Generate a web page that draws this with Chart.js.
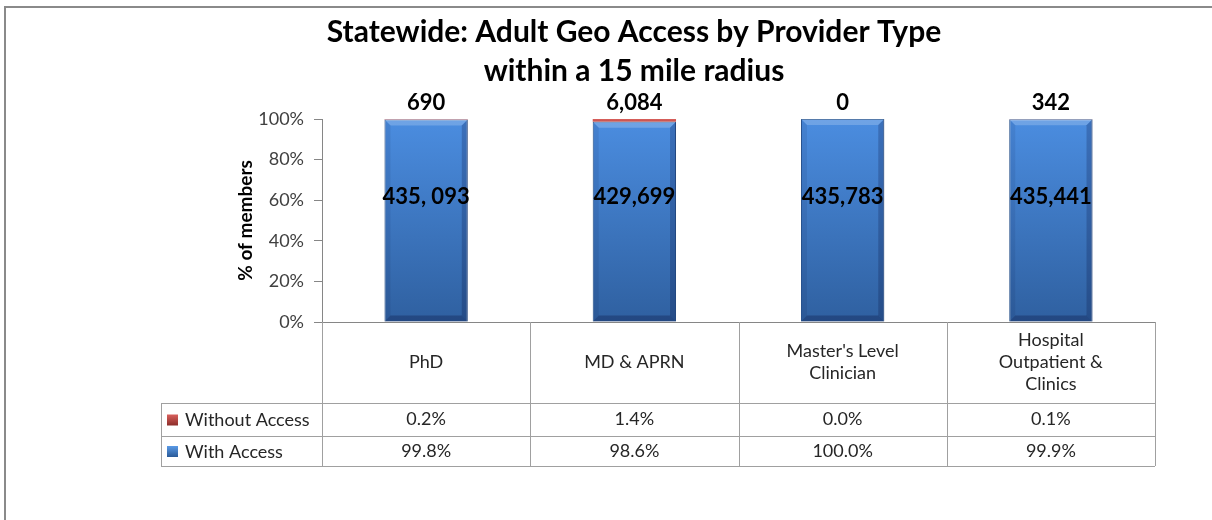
<!DOCTYPE html>
<html>
<head>
<meta charset="utf-8">
<script src="https://cdn.jsdelivr.net/npm/chart.js@4.4.1/dist/chart.umd.min.js"></script>
<style>
    html, body { margin: 0; padding: 0; background: #fff; overflow: hidden; }
    #frame {
        position: absolute; left: 4px; top: 6px;
        width: 1206px; height: 512px;
        border-left: 2px solid #8a8a8a;
        border-top: 2px solid #8a8a8a;
        background: #fff;
        overflow: hidden;
    }
    #chart { display: block; }
</style>
</head>
<body>
<div id="frame">
    <canvas id="chart" width="1200" height="512"></canvas>
</div>
<script>
// chart data
const categories = [["PhD"], ["MD & APRN"], ["Master's Level", "Clinician"], ["Hospital", "Outpatient &", "Clinics"]];
const seriesNames = ["With Access", "Without Access"];
const withAccessPct = [99.8, 98.6, 100.0, 99.9];
const withoutAccessPct = [0.2, 1.4, 0.0, 0.1];
const withAccessCount = ["435, 093", "429,699", "435,783", "435,441"];
const withoutAccessCount = ["690", "6,084", "0", "342"];
const titleLines = ["Statewide: Adult Geo Access by Provider Type", "within a 15 mile radius"];

const FONT = "Lato, 'Open Sans', sans-serif";
const GRAY = "#868686";
const TABLE_LINE = "#a0a0a0";

function blueFill(context) {
    const area = context.chart.chartArea;
    if (!area) return "#3a75c4";
    const g = context.chart.ctx.createLinearGradient(0, area.top, 0, area.bottom);
    g.addColorStop(0, "#4b8de0");
    g.addColorStop(1, "#2f60a0");
    return g;
}

function redFill(context) {
    const area = context.chart.chartArea;
    if (!area) return "#c0504d";
    const g = context.chart.ctx.createLinearGradient(0, area.top, 0, area.top + 6);
    g.addColorStop(0, "#d9605c");
    g.addColorStop(1, "#a83a37");
    return g;
}

// bevel shading on the bars, like the office 3D look
const bevelPlugin = {
    id: "bevel",
    afterDatasetsDraw(chart) {
        const ctx = chart.ctx;
        chart.getDatasetMeta(0).data.forEach(function (bar) {
            const p = bar.getProps(["x", "y", "base", "width"], true);
            const l = p.x - p.width / 2, r = p.x + p.width / 2;
            const t = p.y, b = p.base, e = 6;
            ctx.save();
            ctx.fillStyle = "rgba(255,255,255,0.20)";
            ctx.beginPath();
            ctx.moveTo(l, t); ctx.lineTo(r, t); ctx.lineTo(r - e, t + e); ctx.lineTo(l + e, t + e);
            ctx.closePath(); ctx.fill();
            ctx.fillStyle = "rgba(0,0,40,0.08)";
            ctx.beginPath();
            ctx.moveTo(l, t); ctx.lineTo(l + e, t + e); ctx.lineTo(l + e, b - e); ctx.lineTo(l, b);
            ctx.closePath(); ctx.fill();
            ctx.fillStyle = "rgba(0,0,40,0.20)";
            ctx.beginPath();
            ctx.moveTo(r, t); ctx.lineTo(r - e, t + e); ctx.lineTo(r - e, b - e); ctx.lineTo(r, b);
            ctx.closePath(); ctx.fill();
            ctx.fillStyle = "rgba(0,0,40,0.25)";
            ctx.beginPath();
            ctx.moveTo(l, b); ctx.lineTo(l + e, b - e); ctx.lineTo(r - e, b - e); ctx.lineTo(r, b);
            ctx.closePath(); ctx.fill();
            ctx.restore();
        });
    }
};

// title, value labels + data table under the axis
const tablePlugin = {
    id: "dataTable",
    afterDraw(chart) {
        const ctx = chart.ctx;
        const xs = chart.scales.x, ys = chart.scales.y;
        const colW = (xs.right - xs.left) / categories.length;
        const withoutMeta = chart.getDatasetMeta(1);

        ctx.save();
        ctx.fillStyle = "#000";
        ctx.textAlign = "center";

        // title (centred on the whole excel chart frame, which runs past the window)
        ctx.textBaseline = "alphabetic";
        ctx.font = "bold 30px " + FONT;
        ctx.fillText(titleLines[0], 628, 34);
        ctx.fillText(titleLines[1], 628, 73);

        ctx.textBaseline = "middle";
        ctx.font = "bold 22px " + FONT;
        categories.forEach(function (c, i) {
            const cx = xs.getPixelForValue(i);
            ctx.fillText(withAccessCount[i], cx, ys.getPixelForValue(61.5));
            ctx.fillText(withoutAccessCount[i], cx, withoutMeta.data[i].y - 16);
        });

        // table geometry
        const top = ys.bottom;
        const rowCat = 81, rowH = [33, 30];
        const legendLeft = xs.left - 161;
        const y1 = top + rowCat, y2 = y1 + rowH[0], y3 = y2 + rowH[1];

        ctx.strokeStyle = TABLE_LINE;
        ctx.lineWidth = 1;
        ctx.beginPath();
        for (let i = 0; i <= categories.length; i++) {
            const x = Math.round(xs.left + i * colW) + 0.5;
            ctx.moveTo(x, top); ctx.lineTo(x, y3);
        }
        [y1, y2, y3].forEach(function (y) {
            ctx.moveTo(legendLeft, Math.round(y) + 0.5);
            ctx.lineTo(xs.right, Math.round(y) + 0.5);
        });
        ctx.moveTo(legendLeft + 0.5, y1); ctx.lineTo(legendLeft + 0.5, y3);
        ctx.stroke();

        ctx.fillStyle = "#262626";
        ctx.font = "18px " + FONT;
        categories.forEach(function (lines, i) {
            const cx = xs.getPixelForValue(i);
            const start = top + rowCat / 2 - (lines.length - 1) * 22 / 2;
            lines.forEach(function (s, k) { ctx.fillText(s, cx, start + k * 22); });
            ctx.fillText(withoutAccessPct[i].toFixed(1) + "%", cx, y1 + rowH[0] / 2);
            ctx.fillText(withAccessPct[i].toFixed(1) + "%", cx, y2 + rowH[1] / 2);
        });

        // legend keys in the table
        const keys = [
            { name: seriesNames[1], y: y1 + rowH[0] / 2, c1: "#d9605c", c2: "#8c2d2a" },
            { name: seriesNames[0], y: y2 + rowH[1] / 2, c1: "#5a9ae6", c2: "#2a5a98" }
        ];
        ctx.textAlign = "left";
        keys.forEach(function (k) {
            const g = ctx.createLinearGradient(0, k.y - 5, 0, k.y + 6);
            g.addColorStop(0, k.c1); g.addColorStop(1, k.c2);
            ctx.fillStyle = g;
            ctx.fillRect(legendLeft + 6, k.y - 5, 11, 11);
            ctx.fillStyle = "#262626";
            ctx.fillText(k.name, legendLeft + 24, k.y + 1);
        });
        ctx.restore();
    }
};

new Chart(document.getElementById("chart"), {
    type: "bar",
    data: {
        labels: categories.map(c => c.join(" ")),
        datasets: [{
            label: seriesNames[0],
            data: withAccessPct,
            backgroundColor: blueFill,
            borderColor: "#2c5a96",
            borderWidth: 1,
            barPercentage: 0.4,
            categoryPercentage: 1.0
        }, {
            label: seriesNames[1],
            data: withoutAccessPct,
            backgroundColor: redFill,
            borderWidth: 0,
            barPercentage: 0.4,
            categoryPercentage: 1.0
        }]
    },
    options: {
        responsive: false,
        animation: false,
        layout: { padding: { left: 224, right: 51, top: 111, bottom: 198 } },
        plugins: {
            legend: { display: false },
            tooltip: { enabled: false },
            title: { display: false }
        },
        scales: {
            x: {
                stacked: true,
                ticks: { display: false },
                grid: { display: false, drawTicks: false },
                border: { display: true, color: GRAY, width: 1 },
                afterFit: function (s) { s.height = 0; }
            },
            y: {
                stacked: true,
                min: 0,
                max: 100,
                ticks: {
                    stepSize: 20,
                    padding: 10,
                    color: "#404040",
                    font: { family: FONT, size: 18 },
                    callback: v => v + "%"
                },
                grid: { drawOnChartArea: false, tickLength: 8, color: GRAY },
                border: { display: true, color: GRAY, width: 1 },
                title: {
                    display: true,
                    text: "% of members",
                    color: "#000",
                    font: { family: FONT, size: 19, weight: "bold" }
                },
                afterFit: function (s) { s.width = 92; }
            }
        }
    },
    plugins: [bevelPlugin, tablePlugin]
});
</script>
</body>
</html>
